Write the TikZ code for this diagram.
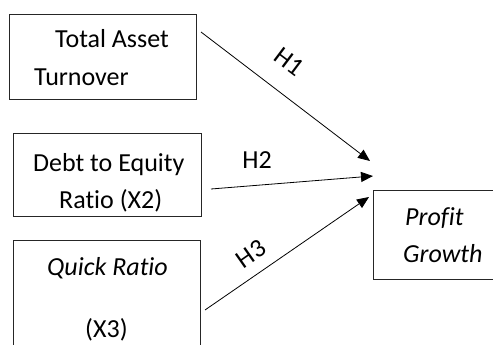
\documentclass[tikz,border=0pt]{standalone}
\usepackage{fontspec}
\setmainfont{Carlito}[Ligatures=NoCommon]
\usetikzlibrary{arrows.meta}
\begin{document}
\begin{tikzpicture}[x=1pt,y=-1pt,
  varbox/.style={draw=black!85,line width=0.9pt},
  txt/.style={inner sep=0pt,anchor=base west,font=\fontsize{26}{30}\selectfont},
  hyp/.style={inner sep=0pt,font=\fontsize{26}{30}\selectfont},
  path/.style={draw,line width=0.8pt,-{Triangle[length=12pt,width=10pt]}}]
\clip (0,0) rectangle (493,345);
% variable boxes
\draw[varbox] (9,14) rectangle (196,99);
\draw[varbox] (13,133) rectangle (201,216);
\draw[varbox] (13,240) rectangle (200,352);
\draw[varbox] (373,190) rectangle (500,279);
% box texts
\node[txt] (tat1) at (55,48) {Total Asset};
\node[txt] (tat2) at (34,85) {Turnover};
\node[txt] (der1) at (33,171) {Debt to Equity};
\node[txt] (der2) at (59,208) {Ratio (X2)};
\node[txt] (qr1) at (47,275) {\itshape Quick Ratio};
\node[txt] (qr2) at (85,337) {(X3)};
\node[txt] (pg1) at (405,225) {\itshape Profit};
\node[txt] (pg2) at (403,262) {\itshape Growth};
% path end points
\coordinate (s1) at (201,32);
\coordinate (e1) at (370,161);
\coordinate (s2) at (211,189);
\coordinate (e2) at (373,176);
\coordinate (s3) at (205,310);
\coordinate (e3) at (369,197);
\draw[path] (s1) -- (e1);
\draw[path] (s2) -- (e2);
\draw[path] (s3) -- (e3);
% hypothesis labels
\node[hyp,rotate=-37] (h1) at (289,62) {H1};
\node[hyp] (h2) at (257,160) {H2};
\node[hyp,rotate=35] (h3) at (251,254) {H3};
\end{tikzpicture}
\end{document}
